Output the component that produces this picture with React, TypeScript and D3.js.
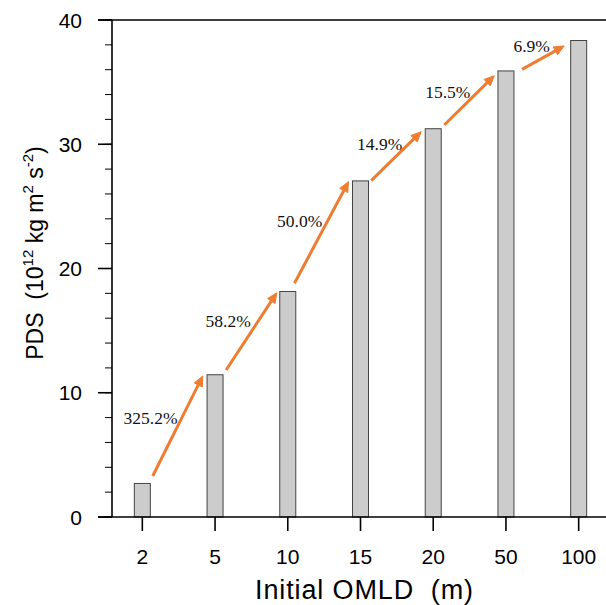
import React from "react";
import * as d3 from "d3";

const categories = ["2", "5", "10", "15", "20", "50", "100"];
const pdsValues = [2.7, 11.45, 18.15, 27.05, 31.25, 35.9, 38.35];
const yTicks = [0, 10, 20, 30, 40];
const yMinorTicks = d3.range(0, 40.01, 2);
const pctLabels = ["325.2%", "58.2%", "50.0%", "14.9%", "15.5%", "6.9%"];
// annotation anchors in data units (category index, PDS value)
const labelIdx = [0.113, 1.18, 2.163, 3.264, 4.2, 5.353];
const labelVal = [7.99, 15.75, 23.8, 30.05, 34.25, 37.92];
const arrowFromIdx = [0.143, 1.152, 2.092, 3.147, 4.152, 5.221];
const arrowFromVal = [3.3, 11.83, 18.81, 27.07, 31.55, 36.03];
const arrowToIdx = [0.831, 1.849, 2.835, 3.835, 4.84, 5.8];
const arrowToVal = [11.35, 18.05, 26.99, 31.01, 35.52, 37.91];

const W = 606;
const H = 605;
const plotLeft = 112;
const plotTop = 20;
const plotBottom = 517;
const plotRight = 609;

export default function App() {
  const x = d3.scaleLinear().domain([-0.417, 6.417]).range([plotLeft, plotRight]);
  const y = d3.scaleLinear().domain([0, 40]).range([plotBottom, plotTop]);
  const barW = x(0.22) - x(0);
  const orange = "#EE7D31";
  const sans = "'Liberation Sans', Arial, Helvetica, sans-serif";
  const serif = "'Liberation Serif', 'Times New Roman', serif";

  const arrows = arrowFromIdx.map((fi, i) => {
    const x1 = x(fi), y1 = y(arrowFromVal[i]);
    const x2 = x(arrowToIdx[i]), y2 = y(arrowToVal[i]);
    const ang = Math.atan2(y2 - y1, x2 - x1);
    const hl = 10, hw = 4.5;
    const bx = x2 - hl * Math.cos(ang), by = y2 - hl * Math.sin(ang);
    const px = -Math.sin(ang) * hw, py = Math.cos(ang) * hw;
    const head = `M${x2},${y2}L${bx + px},${by + py}L${bx - px},${by - py}Z`;
    return { x1, y1, bx, by, head };
  });

  return (
    <div style={{ position: "absolute", left: 0, top: 0 }}>
      <svg width={W} height={H} style={{ display: "block", background: "#fff" }}>
        {pdsValues.map((v, i) => (
          <rect
            key={i}
            x={x(i) - barW / 2}
            y={y(v)}
            width={barW}
            height={y(0) - y(v)}
            fill="#cccccc"
            stroke="#444"
            strokeWidth={1}
          />
        ))}
        {arrows.map((a, i) => (
          <g key={i}>
            <line x1={a.x1} y1={a.y1} x2={a.bx} y2={a.by} stroke={orange} strokeWidth={3} />
            <path d={a.head} fill={orange} stroke={orange} strokeWidth={1} />
          </g>
        ))}
        {pctLabels.map((t, i) => (
          <text
            key={i}
            x={x(labelIdx[i])}
            y={y(labelVal[i])}
            dy="0.35em"
            textAnchor="middle"
            fontFamily={serif}
            fontSize={17.5}
            fill="#111"
          >
            {t}
          </text>
        ))}
        <line x1={98} x2={W} y1={plotTop} y2={plotTop} stroke="#000" strokeWidth={1.6} />
        <line x1={98} x2={W} y1={plotBottom} y2={plotBottom} stroke="#000" strokeWidth={1.6} />
        <line x1={plotLeft} x2={plotLeft} y1={plotTop} y2={plotBottom} stroke="#000" strokeWidth={1.6} />
        {yMinorTicks.map((t) => (
          <line key={"m" + t} x1={plotLeft - 7} x2={plotLeft} y1={y(t)} y2={y(t)} stroke="#000" strokeWidth={1} />
        ))}
        {yTicks.map((t) => (
          <g key={"y" + t}>
            <line x1={plotLeft - 14} x2={plotLeft} y1={y(t)} y2={y(t)} stroke="#000" strokeWidth={1.6} />
            <text x={82} y={y(t)} dy="0.36em" textAnchor="end" fontFamily={sans} fontSize={21} fill="#000">
              {t}
            </text>
          </g>
        ))}
        {categories.map((c, i) => (
          <g key={"x" + c}>
            <line x1={x(i)} x2={x(i)} y1={plotBottom} y2={plotBottom + 14} stroke="#000" strokeWidth={1.6} />
            <text x={x(i)} y={564} textAnchor="middle" fontFamily={sans} fontSize={21} fill="#000">
              {c}
            </text>
          </g>
        ))}
        <text
          x={364}
          y={599}
          textAnchor="middle"
          fontFamily={sans}
          fontSize={27}
          textLength={218}
          lengthAdjust="spacing"
          fill="#000"
        >
          Initial OMLD{"\u00a0\u00a0"}(m)
        </text>
        <text
          transform={`translate(43,253) rotate(-90)`}
          textAnchor="middle"
          fontFamily={sans}
          fontSize={23}
          fill="#000"
        >
          PDS{"\u00a0\u00a0"}(10
          <tspan fontSize={15} dy={-10}>12</tspan>
          <tspan dy={10}>{"\u00a0"}kg m</tspan>
          <tspan fontSize={15} dy={-10}>2</tspan>
          <tspan dy={10}>{"\u00a0"}s</tspan>
          <tspan fontSize={15} dy={-10}>-2</tspan>
          <tspan dy={10}>)</tspan>
        </text>
      </svg>
    </div>
  );
}
